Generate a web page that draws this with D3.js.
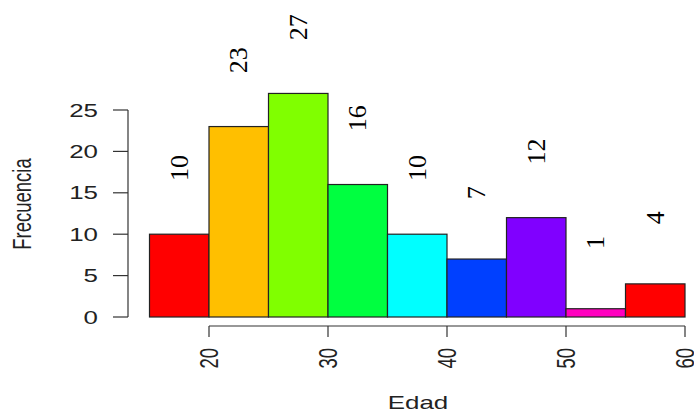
<!DOCTYPE html>
<meta charset="utf-8">
<style>
    body { margin: 0; background: #fff; }
    .axis-line { stroke: #333; stroke-width: 1.2px; fill: none; }
    .sans { font-family: "Liberation Sans", Arial, sans-serif; font-size: 18.5px; fill: #222; }
    .bar { stroke: #222; stroke-width: 1.2px; }
</style>
<svg width="694" height="412"></svg>
<script src="https://d3js.org/d3.v7.min.js"></script>
<script>
    // histogram of ages: bin edges and counts
    const breaks = [15, 20, 25, 30, 35, 40, 45, 50, 55, 60];
    const counts = [10, 23, 27, 16, 10, 7, 12, 1, 4];
    const xTicks = [20, 30, 40, 50, 60];
    const yTicks = [0, 5, 10, 15, 20, 25];
    const barColors = ["#FF0000", "#FFBF00", "#80FF00", "#00FF40", "#00FFFF", "#0040FF", "#8000FF", "#FF00BF"];

    const stretch = 1.4; // sans text in the picture is drawn wide
    const labelLift = 8;

    var svg = d3.select("svg");

    var x = d3.scaleLinear().domain([15, 60]).range([149.5, 685]),
        y = d3.scaleLinear().domain([0, 25]).range([317, 110]);

    var bins = counts.map(function(c, i) {
        return { x0: breaks[i], x1: breaks[i + 1], n: c, color: barColors[i % barColors.length] };
    });

    svg.selectAll(".bar")
        .data(bins)
        .enter().append("rect")
        .attr("class", "bar")
        .attr("x", d => x(d.x0))
        .attr("y", d => y(d.n))
        .attr("width", d => x(d.x1) - x(d.x0))
        .attr("height", d => y(0) - y(d.n))
        .attr("fill", d => d.color);

    // counts written above bars, rotated
    svg.selectAll(".count")
        .data(bins)
        .enter().append("text")
        .attr("class", "count")
        .style("font-family", "'Liberation Serif', 'DejaVu Serif', serif")
        .style("font-size", "26px")
        .attr("fill", "#000")
        .attr("transform", d => "translate(" + (x((d.x0 + d.x1) / 2) + 8.5) + "," + y(d.n + labelLift) + ") rotate(-90)")
        .attr("text-anchor", "middle")
        .text(d => d.n);

    // y axis
    var yAxis = svg.append("g");
    yAxis.append("line").attr("class", "axis-line")
        .attr("x1", 128).attr("x2", 128)
        .attr("y1", y(yTicks[0])).attr("y2", y(yTicks[yTicks.length - 1]));
    yAxis.selectAll(".yt").data(yTicks).enter().append("line")
        .attr("class", "axis-line")
        .attr("x1", 113).attr("x2", 128)
        .attr("y1", d => y(d)).attr("y2", d => y(d));
    yAxis.selectAll(".ytl").data(yTicks).enter().append("text")
        .attr("class", "sans")
        .attr("transform", d => "translate(98," + (y(d) + 6.5) + ") scale(" + stretch + ",1)")
        .attr("text-anchor", "end")
        .text(d => d);

    // x axis
    var xAxis = svg.append("g");
    xAxis.append("line").attr("class", "axis-line")
        .attr("x1", x(xTicks[0])).attr("x2", x(xTicks[xTicks.length - 1]))
        .attr("y1", 326).attr("y2", 326);
    xAxis.selectAll(".xt").data(xTicks).enter().append("line")
        .attr("class", "axis-line")
        .attr("x1", d => x(d)).attr("x2", d => x(d))
        .attr("y1", 326).attr("y2", 337);
    xAxis.selectAll(".xtl").data(xTicks).enter().append("text")
        .attr("class", "sans")
        .attr("transform", d => "translate(" + (x(d) + 9) + ",348) scale(" + stretch + ",1) rotate(-90)")
        .attr("text-anchor", "end")
        .text(d => d);

    svg.append("text")
        .attr("class", "sans")
        .attr("transform", "translate(418,409) scale(" + stretch + ",1)")
        .attr("text-anchor", "middle")
        .text("Edad");

    svg.append("text")
        .attr("class", "sans")
        .attr("transform", "translate(31,204) scale(" + stretch + ",1) rotate(-90)")
        .attr("text-anchor", "middle")
        .text("Frecuencia");
</script>
